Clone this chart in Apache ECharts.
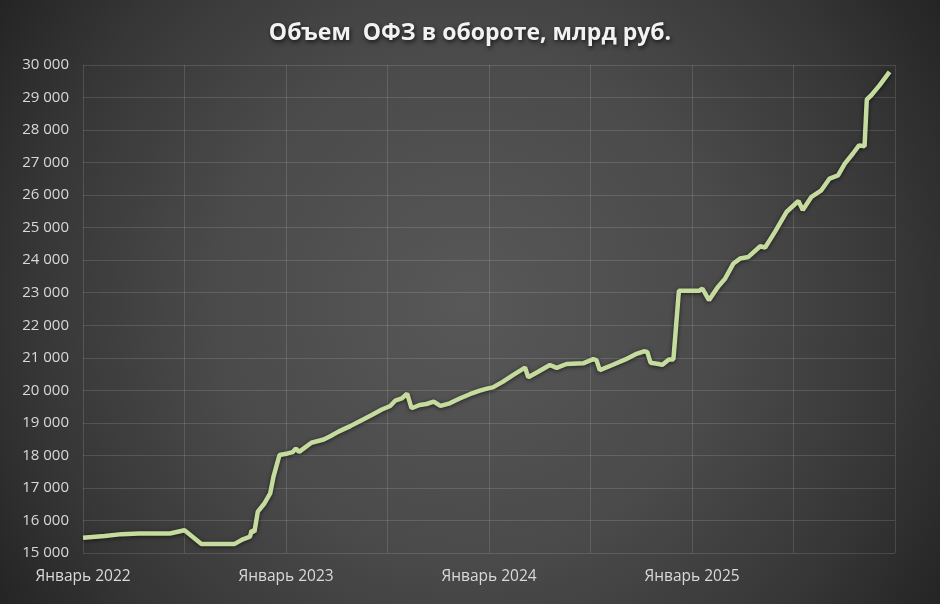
<!DOCTYPE html>
<html>
<head>
<meta charset="utf-8">
<script src="https://cdn.jsdelivr.net/npm/echarts@6/dist/echarts.min.js"></script>
<style>
  html, body { margin: 0; padding: 0; background: #333; }
  #chart { width: 940px; height: 604px; }
</style>
</head>
<body>
<div id="chart"></div>
<script>
// Объем ОФЗ в обороте, млрд руб. (observation dates and volumes)
const dates = [
  '2022-01-01','2022-02-09','2022-03-10','2022-04-10','2022-06-05','2022-07-01',
  '2022-08-01','2022-09-30','2022-10-15','2022-10-28','2022-10-31','2022-11-05',
  '2022-11-11','2022-11-23','2022-12-03','2022-12-09','2022-12-20','2023-01-04',
  '2023-01-13','2023-01-19','2023-01-25','2023-02-15','2023-03-08','2023-03-20',
  '2023-04-04','2023-04-25','2023-05-13','2023-06-03','2023-06-21','2023-07-06',
  '2023-07-15','2023-07-27','2023-08-06','2023-08-14','2023-08-29','2023-09-10',
  '2023-09-23','2023-10-05','2023-10-22','2023-11-09','2023-11-27','2023-12-15',
  '2023-12-30','2024-01-08','2024-01-26','2024-02-13','2024-03-05','2024-03-11',
  '2024-03-29','2024-04-19','2024-05-01','2024-05-19','2024-06-18','2024-07-06',
  '2024-07-12','2024-07-18','2024-08-10','2024-09-03','2024-09-21','2024-10-06',
  '2024-10-12','2024-10-18','2024-11-02','2024-11-08','2024-11-20','2024-11-28',
  '2024-12-08','2025-01-14','2025-01-20','2025-02-01','2025-02-16','2025-02-28',
  '2025-03-15','2025-03-27','2025-04-11','2025-05-02','2025-05-11','2025-05-29',
  '2025-06-19','2025-07-10','2025-07-18','2025-08-03','2025-08-21','2025-09-05',
  '2025-09-20','2025-10-02','2025-10-17','2025-10-28','2025-11-07','2025-11-11',
  '2025-11-19','2025-12-04','2025-12-22'
];
const volumes = [
  15470,15520,15580,15600,15600,15700,
  15280,15280,15420,15500,15690,15650,
  16270,16530,16830,17340,18010,18060,
  18100,18210,18110,18390,18490,18590,
  18730,18900,19060,19240,19410,19520,
  19680,19750,19900,19450,19550,19580,
  19650,19520,19600,19750,19880,19990,
  20060,20090,20260,20470,20700,20400,
  20570,20780,20690,20810,20830,20960,
  20930,20620,20780,20950,21110,21200,
  21180,20850,20810,20780,20950,20950,
  23060,23060,23130,22770,23180,23440,
  23900,24050,24100,24430,24390,24870,
  25490,25820,25540,25950,26150,26510,
  26610,26970,27280,27530,27500,28940,
  29070,29380,29790
];
const startYear = 2022;
const yearLabels = ['Январь 2022', 'Январь 2023', 'Январь 2024', 'Январь 2025', 'Январь 2026'];
const yTicks = { min: 15000, max: 30000, step: 1000 };

// Position on the x axis measured in months since January of startYear
function monthIndex(iso) {
  const [y, m, d] = iso.split('-').map(Number);
  const daysInMonth = new Date(Date.UTC(y, m, 0)).getUTCDate();
  return (y - startYear) * 12 + (m - 1) + (d - 1) / daysInMonth;
}

const seriesData = dates.map((d, i) => [monthIndex(d), volumes[i]]);

const chart = echarts.init(document.getElementById('chart'), null, { renderer: 'canvas' });

const labelFont = '"Open Sans", "Noto Sans", sans-serif';

chart.setOption({
  animation: false,
  backgroundColor: {
    type: 'radial', x: 0.5, y: 0.5, r: 0.95,
    colorStops: [
      { offset: 0, color: '#585858' },
      { offset: 0.45, color: '#4a4a4a' },
      { offset: 0.75, color: '#373737' },
      { offset: 1, color: '#222222' }
    ]
  },
  title: {
    text: 'Объем  ОФЗ в обороте, млрд руб.',
    left: 'center',
    top: 17,
    textStyle: {
      color: '#f2f2f2',
      fontSize: 23,
      fontWeight: 'bold',
      fontFamily: labelFont,
      textShadowColor: 'rgba(0,0,0,0.7)',
      textShadowBlur: 4,
      textShadowOffsetX: 1,
      textShadowOffsetY: 2
    }
  },
  grid: { left: 83, right: 45, top: 65, bottom: 51, containLabel: false },
  xAxis: {
    type: 'value',
    min: 0,
    max: 48,
    interval: 6,
    axisLine: { show: false },
    axisTick: { show: false },
    splitLine: { show: true, lineStyle: { color: 'rgba(255,255,255,0.13)', width: 1 } },
    axisLabel: {
      color: '#d9d9d9',
      fontSize: 15.5,
      fontFamily: labelFont,
      margin: 16,
      formatter: v => (v % 12 === 0 ? yearLabels[v / 12] : ''),
      showMaxLabel: false
    }
  },
  yAxis: {
    type: 'value',
    min: yTicks.min,
    max: yTicks.max,
    interval: yTicks.step,
    axisLine: { show: false },
    axisTick: { show: false },
    splitLine: { show: true, lineStyle: { color: 'rgba(255,255,255,0.13)', width: 1 } },
    axisLabel: {
      color: '#d9d9d9',
      fontSize: 15,
      fontFamily: labelFont,
      margin: 14,
      formatter: v => String(v).replace(/\B(?=(\d{3})+(?!\d))/g, ' ')
    }
  },
  series: [{
    type: 'line',
    data: seriesData,
    showSymbol: false,
    smooth: false,
    lineStyle: {
      color: '#c6dc9e',
      width: 4.5,
      shadowColor: 'rgba(0,0,0,0.6)',
      shadowBlur: 4,
      shadowOffsetY: 1
    }
  }]
});
</script>
</body>
</html>
